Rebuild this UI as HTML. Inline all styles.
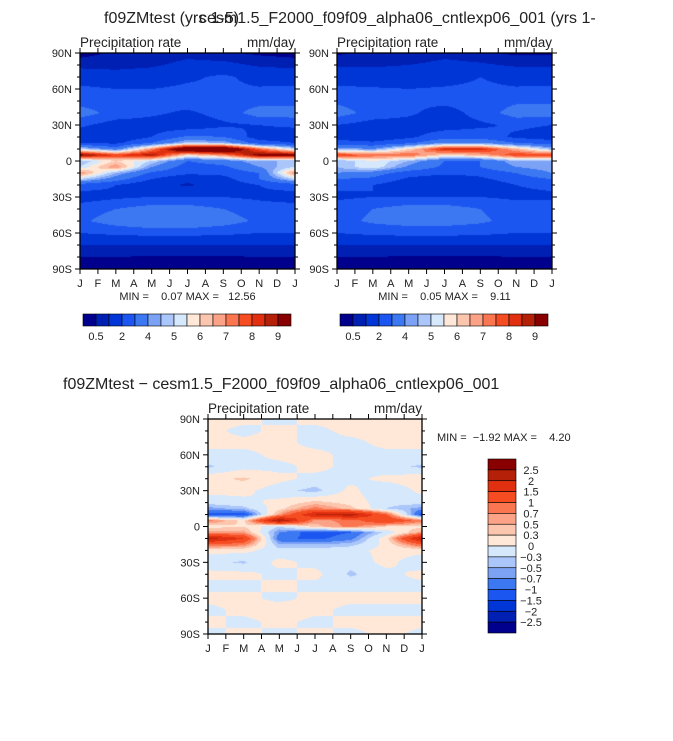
<!DOCTYPE html>
<html><head><meta charset="utf-8"><style>
body{margin:0;background:#fff;width:673px;height:741px;overflow:hidden;position:relative;font-family:"Liberation Sans",sans-serif}
canvas{position:absolute}
svg{position:absolute;left:0;top:0}
text{font-family:"Liberation Sans",sans-serif;fill:#222;white-space:pre}
</style></head><body>
<canvas id="c1" width="215" height="216" style="left:80px;top:53px"></canvas>
<canvas id="c2" width="215" height="216" style="left:337px;top:53px"></canvas>
<canvas id="c3" width="214" height="215" style="left:208px;top:419px"></canvas>
<svg id="ov" width="673" height="741"></svg>
<script>
const months=["J","F","M","A","M","J","J","A","S","O","N","D","J"];
const colMonths=[0,2,4,6,8,10,12];
const lats=[90,80,70,60,50,40,30,20,15,10,5,0,-5,-10,-15,-20,-30,-40,-50,-60,-70,-80,-90];
const latTicks=["90N","60N","30N","0","30S","60S","90S"];
const precipLevels=[0.5,1,2,3,4,4.5,5,5.5,6,6.5,7,7.5,8,8.5,9];
const precipLabels=["0.5","2","4","5","6","7","8","9"];
const diffLevels=[-2.5,-2,-1.5,-1,-0.7,-0.5,-0.3,0,0.3,0.5,0.7,1,1.5,2,2.5];
const diffLabels=["-2.5","-2","-1.5","-1","-0.7","-0.5","-0.3","0","0.3","0.5","0.7","1","1.5","2","2.5"];
const palette=["#00008c","#0020b4","#0036d6","#1c56f0","#3c78f2","#7ca2f6","#aac6fa","#d6e8fc","#ffe8d8","#fcc6ae","#fca286","#fa7650","#f64c22","#e03010","#b42008","#880000"];
const ctlData=[
[0.3,0.6,0.6,0.8,0.6,0.4,0.3],
[0.8,0.8,0.9,1.2,1.2,0.9,0.8],
[1.5,1.3,1.4,1.8,2.2,1.6,1.5],
[2.2,2.0,2.0,2.2,2.2,2.1,2.2],
[2.6,2.4,2.3,2.5,2.6,2.6,2.6],
[3.5,2.6,2.2,1.8,2.4,3.5,3.5],
[2.2,1.5,1.5,1.3,1.8,2.0,2.2],
[1.3,1.2,2.0,3.2,3.0,1.5,1.3],
[2.0,1.8,3.0,4.8,4.5,2.5,2.0],
[5.0,3.5,7.0,11,11,7.5,5.0],
[9.5,8.0,9.0,6.0,7.0,9.5,9.5],
[4.5,6.0,5.0,3.0,3.5,4.5,4.5],
[5.0,7.0,4.0,2.5,2.8,4.0,5.0],
[7.0,4.5,2.8,2.2,2.3,3.0,7.0],
[5.0,3.5,2.0,1.2,1.6,3.0,5.0],
[2.5,2.0,1.2,0.9,1.3,2.0,2.5],
[1.5,1.8,2.0,2.0,2.0,1.8,1.5],
[2.5,3.0,3.5,3.5,3.0,2.5,2.5],
[2.8,3.5,4.0,4.0,3.5,2.8,2.8],
[2.0,2.2,2.3,2.3,2.2,2.0,2.0],
[1.0,1.0,1.0,1.0,1.0,1.0,1.0],
[0.5,0.5,0.45,0.45,0.45,0.5,0.5],
[0.2,0.2,0.2,0.2,0.2,0.2,0.2]];
const refData=[
[0.4,0.7,0.5,0.8,0.6,0.4,0.4],
[0.9,0.9,1.0,1.2,1.1,0.9,0.9],
[1.5,1.4,1.5,1.6,2.0,1.6,1.5],
[2.2,2.1,2.0,2.1,2.2,2.1,2.2],
[2.8,2.4,2.2,2.3,2.5,2.8,2.8],
[3.5,2.6,2.2,1.5,2.4,3.5,3.5],
[2.0,1.5,1.5,1.5,1.8,2.2,2.0],
[1.5,1.3,1.8,2.6,2.6,1.8,1.5],
[2.5,2.2,2.8,4.0,4.0,3.0,2.5],
[4.5,4.0,6.0,8.5,8.5,6.5,4.5],
[8.0,7.5,7.5,6.0,6.5,8.0,8.0],
[4.5,5.5,4.5,3.0,3.0,4.5,4.5],
[4.5,5.5,3.8,2.8,3.0,4.0,4.5],
[4.0,3.5,2.5,2.2,2.3,3.0,4.0],
[3.0,2.8,1.8,1.4,1.8,2.5,3.0],
[2.2,2.0,1.3,1.0,1.3,2.0,2.2],
[1.8,2.0,2.0,2.0,2.0,1.8,1.8],
[2.5,3.0,3.5,3.5,3.0,2.5,2.5],
[2.6,3.2,3.5,3.5,3.2,2.6,2.6],
[2.0,2.2,2.3,2.3,2.2,2.0,2.0],
[1.0,1.0,1.0,1.0,1.0,1.0,1.0],
[0.5,0.5,0.45,0.45,0.45,0.5,0.5],
[0.2,0.2,0.2,0.2,0.2,0.2,0.2]];
const diffData=[
[0.1,0.1,-0.1,0.1,0.1,0.1,0.1],
[0.1,-0.1,0.1,-0.1,0.1,0.1,0.1],
[0.1,0.1,0.1,-0.1,-0.1,0.1,0.1],
[-0.1,-0.1,0.1,0.1,-0.1,-0.1,-0.1],
[-0.35,-0.1,-0.1,0.1,-0.1,-0.2,-0.35],
[0.2,0.35,0.1,-0.1,-0.1,0.1,0.2],
[0.1,0.1,-0.2,-0.4,0.1,-0.3,0.1],
[-0.2,-0.1,0.1,0.4,0.2,-0.2,-0.2],
[-0.6,-0.4,0.2,0.8,0.4,-0.3,-0.6],
[-1.2,-1.2,0.6,2.0,2.3,1.0,-1.2],
[0.8,0.2,2.5,0.6,0.8,1.5,0.8],
[0.2,0.3,-0.3,0.4,0.8,0.3,0.2],
[0.6,0.6,-0.7,-1.2,-1.0,-0.2,0.6],
[2.2,1.5,-0.9,-1.1,-0.8,0.2,2.2],
[1.0,0.8,-0.5,-0.5,-0.4,0.1,1.0],
[0.1,0.1,-0.2,-0.2,-0.1,0.1,0.1],
[-0.2,-0.35,0.1,-0.1,-0.2,0.1,-0.2],
[0.1,0.1,-0.1,0.1,-0.35,-0.1,0.1],
[-0.1,-0.1,0.1,-0.1,-0.1,-0.1,-0.1],
[0.1,0.1,-0.1,0.1,0.1,0.1,0.1],
[-0.1,0.1,0.2,0.1,-0.1,-0.1,-0.1],
[0.1,-0.1,0.1,-0.1,0.1,0.1,0.1],
[-0.1,0.1,-0.1,0.1,-0.1,0.1,-0.1]];

function hex(c){return [parseInt(c.substr(1,2),16),parseInt(c.substr(3,2),16),parseInt(c.substr(5,2),16)];}
const rgb=palette.map(hex);
function sample(data,m,lat){
  let i=0;while(i<colMonths.length-2&&m>colMonths[i+1])i++;
  const tx=(m-colMonths[i])/(colMonths[i+1]-colMonths[i]);
  let j=0;while(j<lats.length-2&&lat<lats[j+1])j++;
  const ty=(lats[j]-lat)/(lats[j]-lats[j+1]);
  const a=data[j][i]*(1-tx)+data[j][i+1]*tx,b=data[j+1][i]*(1-tx)+data[j+1][i+1]*tx;
  return a*(1-ty)+b*ty;
}
function lvl(v,levels){let k=0;while(k<levels.length&&v>=levels[k])k++;return k;}
function drawField(id,data,levels){
  const cv=document.getElementById(id),ctx=cv.getContext('2d'),W=cv.width,H=cv.height;
  const im=ctx.createImageData(W,H);
  for(let y=0;y<H;y++){const lat=90-180*(y+0.5)/H;
    for(let x=0;x<W;x++){const m=12*(x+0.5)/W;const c=rgb[lvl(sample(data,m,lat),levels)];const p=(y*W+x)*4;
      im.data[p]=c[0];im.data[p+1]=c[1];im.data[p+2]=c[2];im.data[p+3]=255;}}
  ctx.putImageData(im,0,0);
}
drawField('c1',ctlData,precipLevels);
drawField('c2',refData,precipLevels);
drawField('c3',diffData,diffLevels);

const NS="http://www.w3.org/2000/svg",svg=document.getElementById('ov');
function el(t,a,txt){const e=document.createElementNS(NS,t);for(const k in a)e.setAttribute(k,a[k]);if(txt!==undefined)e.textContent=txt;svg.appendChild(e);return e;}
function axes(x0,y0,w,h,prefix,minmax){
  const r=el('rect',{x:x0,y:y0,width:w,height:h,fill:'none',stroke:'#000','stroke-width':1.3});
  
  const sx=m=>x0+w*m/12, sy=l=>y0+h*(90-l)/180;
  months.forEach((mn,i)=>{const x=sx(i);
    el('line',{x1:x,y1:y0,x2:x,y2:y0-5,stroke:'#000'});
    el('line',{x1:x,y1:y0+h,x2:x,y2:y0+h+5,stroke:'#000'});
    const t=el('text',{x:x,y:y0+h+18,'font-size':11,'text-anchor':'middle'},mn);
    });
  for(let l=90;l>=-90;l-=10){const y=sy(l),L=(l%30===0)?5:3;
    el('line',{x1:x0,y1:y,x2:x0-L,y2:y,stroke:'#000'});el('line',{x1:x0+w,y1:y,x2:x0+w+L,y2:y,stroke:'#000'});}
  latTicks.forEach((lb,i)=>{const t=el('text',{x:x0-8,y:sy(90-30*i)+4,'font-size':11,'text-anchor':'end'},lb);
    });
  let t=el('text',{x:x0,y:y0-6,'font-size':13.5,fill:'#333'},'Precipitation rate');
  t=el('text',{x:x0+w,y:y0-6,'font-size':13.5,'text-anchor':'end',fill:'#333'},'mm/day');
  if(minmax){t=el('text',{x:x0+w/2,y:y0+h+31,'font-size':11,'text-anchor':'middle'},minmax);}
}
axes(80,53,215,216,'control','MIN =    0.07 MAX =   12.56');
axes(337,53,215,216,'reference','MIN =    0.05 MAX =    9.11');
axes(208,419,214,215,'difference',null);
let t=el('text',{x:437,y:441,'font-size':11},'MIN =  \u22121.92 MAX =    4.20');

t=el('text',{x:104,y:23,'font-size':16,fill:'#333'},'f09ZMtest (yrs 1-5)');

t=el('text',{x:199,y:23,'font-size':16,fill:'#333'},'cesm1.5_F2000_f09f09_alpha06_cntlexp06_001 (yrs 1-');

t=el('text',{x:63,y:389,'font-size':16,fill:'#333'},'f09ZMtest \u2212 cesm1.5_F2000_f09f09_alpha06_cntlexp06_001');

function hbar(x0,y0,w,h,prefix){
  const bw=w/palette.length;
  palette.forEach((c,i)=>{const r=el('rect',{x:x0+i*bw,y:y0,width:bw,height:h,fill:c,stroke:'#000','stroke-width':0.6});
    });
  precipLabels.forEach((lb,i)=>{const t=el('text',{x:x0+(2*i+1)*bw,y:y0+h+14,'font-size':11,'text-anchor':'middle'},lb);
    });
}
hbar(83,314,208,12,'control');
hbar(340,314,208,12,'reference');
(function(){const x0=488,y0=459,w=28,h=174,bh=h/palette.length;
  palette.slice().reverse().forEach((c,i)=>{const r=el('rect',{x:x0,y:y0+i*bh,width:w,height:bh,fill:c,stroke:'#000','stroke-width':0.6});
    });
  diffLabels.slice().reverse().forEach((lb,i)=>{const t=el('text',{x:x0+w+15,y:y0+(i+1)*bh+4,'font-size':11,'text-anchor':'middle'},lb.replace('-','\u2212'));
    });
})();
</script>
</body></html>
